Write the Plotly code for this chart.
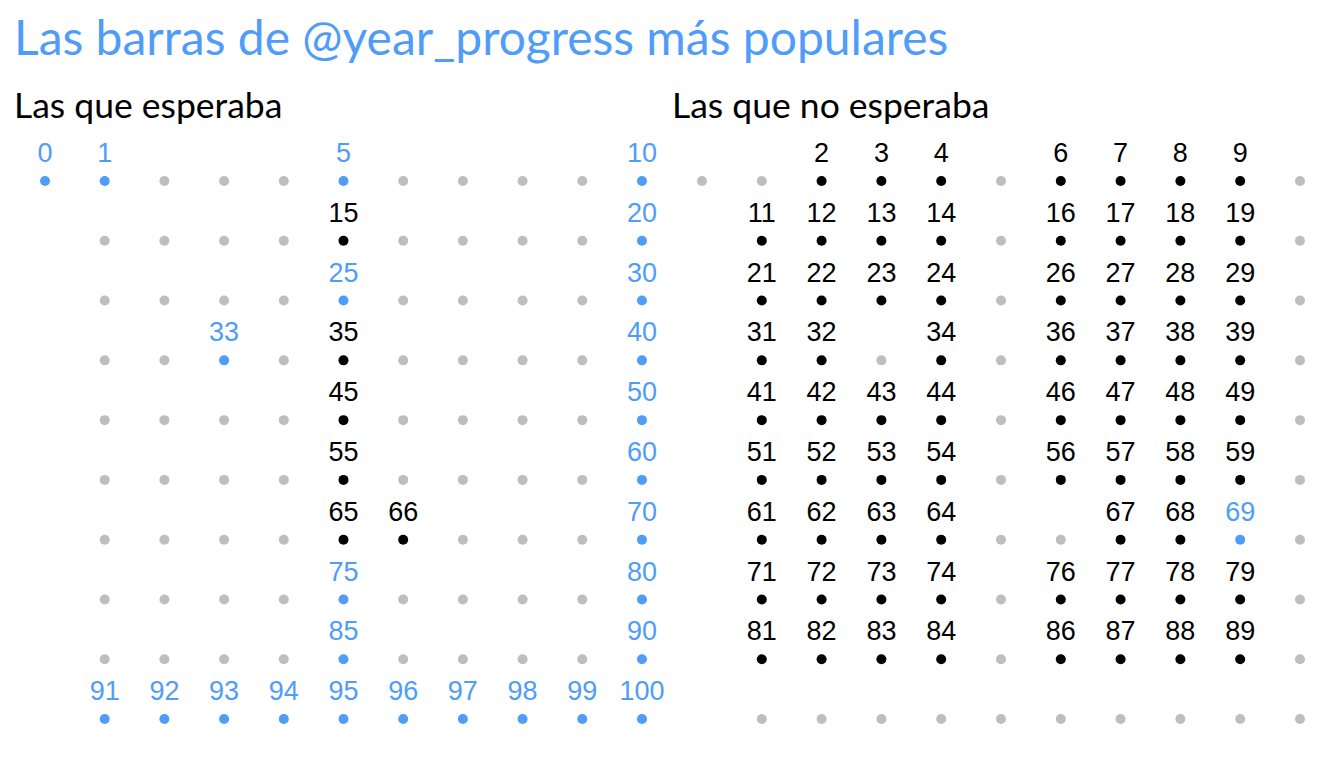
import plotly.graph_objects as go

# barras del 0 al 100
numeros = list(range(0, 101))

# "Las que esperaba"
esperaba_azul = [0, 1, 5, 10, 20, 25, 30, 33, 40, 50, 60, 70, 75, 80, 85, 90,
                 91, 92, 93, 94, 95, 96, 97, 98, 99, 100]
esperaba_negro = [15, 35, 45, 55, 65, 66]

# "Las que no esperaba"
no_esperaba_azul = [69]
no_esperaba_negro = [2, 3, 4, 6, 7, 8, 9,
                     11, 12, 13, 14, 16, 17, 18, 19,
                     21, 22, 23, 24, 26, 27, 28, 29,
                     31, 32, 34, 36, 37, 38, 39,
                     41, 42, 43, 44, 46, 47, 48, 49,
                     51, 52, 53, 54, 56, 57, 58, 59,
                     61, 62, 63, 64, 67, 68,
                     71, 72, 73, 74, 76, 77, 78, 79,
                     81, 82, 83, 84, 86, 87, 88, 89]

AZUL = "#4f9cf9"
GRIS = "#bebebe"
NEGRO = "#000000"


def col(n):
    return 0 if n == 0 else (n - 1) % 10 + 1


def fila(n):
    return 0 if n == 0 else (n - 1) // 10


fig = go.Figure()


def panel(azul, negro, xa, ya):
    grises = [n for n in numeros if n not in azul and n not in negro]
    for nums, color, etiqueta in [(grises, GRIS, False), (azul, AZUL, True), (negro, NEGRO, True)]:
        fig.add_trace(go.Scatter(
            x=[col(n) for n in nums], y=[fila(n) for n in nums],
            mode="markers", marker=dict(size=10, color=color),
            xaxis=xa, yaxis=ya, hoverinfo="skip", showlegend=False))
        if etiqueta:
            fig.add_trace(go.Scatter(
                x=[col(n) for n in nums], y=[fila(n) - 0.43 for n in nums],
                mode="text", text=[str(n) for n in nums], textposition="middle center",
                textfont=dict(family="Liberation Sans, Arial", size=27, color=color),
                xaxis=xa, yaxis=ya, hoverinfo="skip", showlegend=False))


panel(esperaba_azul, esperaba_negro, "x", "y")
panel(no_esperaba_azul, no_esperaba_negro, "x2", "y2")

ejes = dict(visible=False, showgrid=False, zeroline=False, fixedrange=True)
fig.update_layout(
    width=1344, height=768,
    margin=dict(l=0, r=0, t=0, b=0),
    paper_bgcolor="white", plot_bgcolor="white",
    xaxis=dict(domain=[0, 0.5], range=[-0.62, 10.637], **ejes),
    xaxis2=dict(domain=[0.5, 1], range=[-0.368, 10.87], **ejes),
    yaxis=dict(anchor="x", range=[9.953, -2.894], **ejes),
    yaxis2=dict(anchor="x2", range=[9.953, -2.894], **ejes),
)

fig.add_annotation(text="Las barras de @year_progress más populares",
                   x=4 / 1344, y=1 - 28 / 768, xref="paper", yref="paper",
                   xanchor="left", yanchor="middle", showarrow=False,
                   font=dict(family="Lato", size=48, color=AZUL))
fig.add_annotation(text="Las que esperaba",
                   x=4 / 1344, y=1 - 96 / 768, xref="paper", yref="paper",
                   xanchor="left", yanchor="middle", showarrow=False,
                   font=dict(family="Lato", size=35.5, color="black"))
fig.add_annotation(text="Las que no esperaba",
                   x=662 / 1344, y=1 - 96 / 768, xref="paper", yref="paper",
                   xanchor="left", yanchor="middle", showarrow=False,
                   font=dict(family="Lato", size=35.5, color="black"))

fig.write_html("out.html")
